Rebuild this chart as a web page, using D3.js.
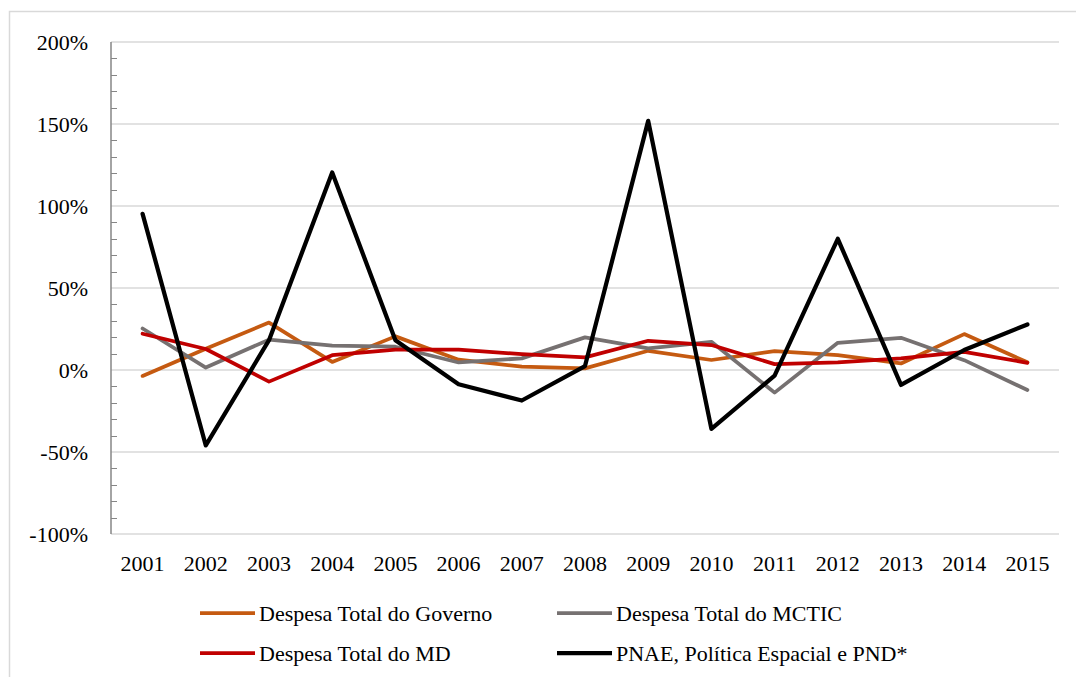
<!DOCTYPE html>
<html>
<head>
<meta charset="utf-8">
<script src="https://cdn.jsdelivr.net/npm/d3@7"></script>
<style>
  html, body { margin: 0; padding: 0; background: #fff; }
  svg { display: block; }
</style>
</head>
<body>
<svg id="chart" width="1076" height="677" font-family="'Liberation Serif', 'Times New Roman', Times, 'DejaVu Serif', serif"></svg>
<script>
const years = ["2001","2002","2003","2004","2005","2006","2007","2008","2009","2010","2011","2012","2013","2014","2015"];
const governo = [-3.6, 13.0, 28.9, 4.9, 20.5, 6.3, 2.0, 1.0, 11.7, 6.1, 11.5, 9.1, 4.0, 21.9, 4.7];
const mctic   = [25.3, 1.5, 18.5, 14.8, 14.2, 4.6, 7.1, 19.9, 13.2, 17.2, -13.8, 16.6, 19.6, 6.0, -12.2];
const md      = [22.1, 12.8, -7.1, 9.0, 12.4, 12.4, 9.7, 7.7, 17.8, 15.2, 3.6, 4.7, 7.1, 11.1, 4.4];
const pnae    = [95.2, -46.0, 18.2, 120.5, 18.2, -8.7, -18.6, 2.4, 151.9, -35.9, -3.4, 80.0, -9.1, 12.2, 27.8];
const yTicks  = [-100, -50, 0, 50, 100, 150, 200];
const seriesNames = ["Despesa Total do Governo", "Despesa Total do MCTIC", "Despesa Total do MD", "PNAE, Política Espacial e PND*"];
const seriesColors = ["#C55A11", "#767171", "#C00000", "#000000"];

const svg = d3.select("#chart");
const pLeft = 111, pRight = 1059, pTop = 42, pBottom = 534;
const FONT = "'Liberation Serif', 'Times New Roman', Times, 'DejaVu Serif', serif";

// outer border (extends beyond image on right and bottom)
svg.append("rect").attr("x", 9.5).attr("y", 11.5).attr("width", 1200).attr("height", 1000)
  .attr("fill", "#fff").attr("stroke", "#D9D9D9").attr("stroke-width", 1.5);

const x = d3.scaleBand().domain(years).range([pLeft, pRight]).padding(0);
const y = d3.scaleLinear().domain([-100, 200]).range([pBottom, pTop]);

// gridlines
svg.append("g").selectAll("line").data(yTicks.filter(d => d > -100)).join("line")
  .attr("x1", pLeft).attr("x2", pRight)
  .attr("y1", d => y(d)).attr("y2", d => y(d))
  .attr("stroke", "#D9D9D9").attr("stroke-width", 1.5);

// bottom axis line
svg.append("line").attr("x1", pLeft).attr("x2", pRight).attr("y1", y(-100)).attr("y2", y(-100))
  .attr("stroke", "#D9D9D9").attr("stroke-width", 1.5);

// left axis with minor ticks inside
const minor = d3.range(-90, 200, 10).filter(d => d % 50 !== 0);
svg.append("g").selectAll("line").data(minor).join("line")
  .attr("x1", pLeft).attr("x2", pLeft + 6)
  .attr("y1", d => Math.round(y(d)) + 0.5).attr("y2", d => Math.round(y(d)) + 0.5)
  .attr("stroke", "#868686").attr("stroke-width", 1);
svg.append("line").attr("x1", pLeft).attr("x2", pLeft).attr("y1", pTop).attr("y2", pBottom)
  .attr("stroke", "#868686").attr("stroke-width", 1.5);

// y labels
svg.append("g").selectAll("text").data(yTicks).join("text")
  .attr("x", 88).attr("y", d => y(d)).attr("dy", "0.35em")
  .attr("text-anchor", "end").attr("font-size", 22).attr("font-family", FONT).attr("fill", "#000")
  .text(d => d + "%");

// x labels
svg.append("g").selectAll("text").data(years).join("text")
  .attr("x", d => x(d) + x.bandwidth() / 2).attr("y", 571)
  .attr("text-anchor", "middle").attr("font-size", 22).attr("font-family", FONT).attr("fill", "#000")
  .text(d => d);

// lines
const allSeries = [governo, mctic, md, pnae];
const line = d3.line().x((d, i) => x(years[i]) + x.bandwidth() / 2).y(d => y(d));
const widths = [3.75, 3.75, 3.75, 4.25];
allSeries.forEach((s, k) => {
  svg.append("path").datum(s).attr("d", line)
    .attr("fill", "none").attr("stroke", seriesColors[k]).attr("stroke-width", widths[k])
    .attr("stroke-linejoin", "round").attr("stroke-linecap", "round");
});

// legend
const legendPos = [[200, 613], [557, 613], [200, 653], [557, 653]];
seriesNames.forEach((name, k) => {
  const [lx, ly] = legendPos[k];
  svg.append("line").attr("x1", lx).attr("x2", lx + 55).attr("y1", ly).attr("y2", ly)
    .attr("stroke", seriesColors[k]).attr("stroke-width", widths[k]);
  svg.append("text").attr("x", lx + 59).attr("y", ly).attr("dy", "0.35em")
    .attr("font-size", 22).attr("font-family", FONT).attr("fill", "#000").text(name);
});
</script>
</body>
</html>
